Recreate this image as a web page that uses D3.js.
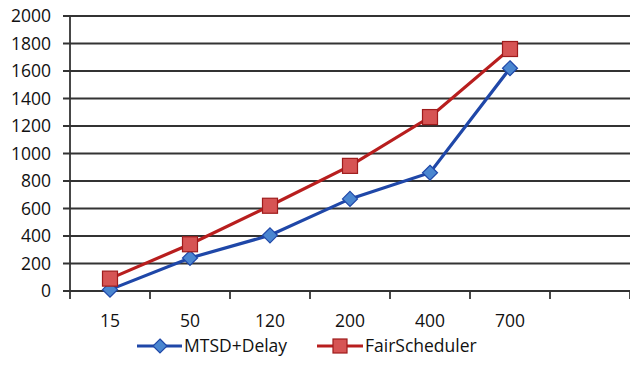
<!DOCTYPE html>
<html><head><meta charset="utf-8">
<script src="https://cdn.jsdelivr.net/npm/d3@7"></script>
<style>body{margin:0;background:#fff}svg{display:block}</style>
</head><body>
<svg id="c" width="630" height="366"></svg>
<script>
const categories = ["15","50","120","200","400","700",""];
const mtsd = [10, 240, 405, 670, 860, 1620];
const fair = [90, 340, 620, 910, 1265, 1760];
const yTicks = [0,200,400,600,800,1000,1200,1400,1600,1800,2000];
const seriesNames = ["MTSD+Delay","FairScheduler"];

const svg = d3.select("#c");
const font = "'Open Sans', sans-serif";
const fs = 17.5;
const x = d3.scaleBand().domain(categories).range([70, 630]).padding(0);
const y = d3.scaleLinear().domain([0, 2000]).range([291, 16]);

// gridlines
svg.append("g").selectAll("line").data(yTicks).join("line")
  .attr("x1", 63).attr("x2", 630)
  .attr("y1", d => y(d)).attr("y2", d => y(d))
  .attr("stroke", "#333").attr("stroke-width", 1.8);

// y axis line
svg.append("line").attr("x1", 70).attr("x2", 70).attr("y1", y(2000)).attr("y2", y(0) + 8)
  .attr("stroke", "#333").attr("stroke-width", 1.8);

// x ticks
const bounds = categories.map(c => x(c) + x.bandwidth());
svg.append("g").selectAll("line").data(bounds).join("line")
  .attr("x1", d => d).attr("x2", d => d)
  .attr("y1", y(0)).attr("y2", y(0) + 8)
  .attr("stroke", "#333").attr("stroke-width", 1.8);

// y labels
svg.append("g").selectAll("text").data(yTicks).join("text")
  .attr("x", 51).attr("y", d => y(d)).attr("dy", "0.36em")
  .attr("text-anchor", "end").attr("font-family", font).attr("font-size", fs)
  .attr("fill", "#111").text(d => d);

// x labels
svg.append("g").selectAll("text").data(categories).join("text")
  .attr("x", d => x(d) + x.bandwidth() / 2).attr("y", 327)
  .attr("text-anchor", "middle").attr("font-family", font).attr("font-size", fs)
  .attr("fill", "#111").text(d => d);

const cx = (d, i) => x(categories[i]) + x.bandwidth() / 2;
const line = d3.line().x(cx).y(d => y(d));

const blue = "#1f47a8", blueFill = "#4a86d0";
const red = "#b81e1e", redFill = "#d65454";

svg.append("path").datum(fair).attr("d", line).attr("fill", "none")
  .attr("stroke", red).attr("stroke-width", 3.2);
svg.append("path").datum(mtsd).attr("d", line).attr("fill", "none")
  .attr("stroke", blue).attr("stroke-width", 3.2);

const diamond = (cx0, cy0, r) => `M${cx0},${cy0 - r}L${cx0 + r},${cy0}L${cx0},${cy0 + r}L${cx0 - r},${cy0}Z`;

svg.append("g").selectAll("path").data(mtsd).join("path")
  .attr("d", (d, i) => diamond(cx(d, i), y(d), 7.5))
  .attr("fill", blueFill).attr("stroke", blue).attr("stroke-width", 1.2);
svg.append("g").selectAll("rect").data(fair).join("rect")
  .attr("x", (d, i) => cx(d, i) - 7.5).attr("y", d => y(d) - 7.5)
  .attr("width", 15).attr("height", 15)
  .attr("fill", redFill).attr("stroke", "#9e1c1c").attr("stroke-width", 1.2);

// legend
const ly = 346;
const lg = svg.append("g");
lg.append("line").attr("x1", 137).attr("x2", 182).attr("y1", ly).attr("y2", ly).attr("stroke", blue).attr("stroke-width", 3.2);
lg.append("path").attr("d", diamond(160, ly, 7)).attr("fill", blueFill).attr("stroke", blue).attr("stroke-width", 1.2);
lg.append("text").attr("x", 184).attr("y", ly).attr("dy", "0.36em").attr("font-family", font).attr("font-size", fs).attr("fill", "#111").text(seriesNames[0]);
lg.append("line").attr("x1", 317).attr("x2", 363).attr("y1", ly).attr("y2", ly).attr("stroke", red).attr("stroke-width", 3.2);
lg.append("rect").attr("x", 333).attr("y", ly - 7).attr("width", 14).attr("height", 14).attr("fill", redFill).attr("stroke", "#9e1c1c").attr("stroke-width", 1.2);
lg.append("text").attr("x", 365).attr("y", ly).attr("dy", "0.36em").attr("font-family", font).attr("font-size", fs).attr("fill", "#111").text(seriesNames[1]);
</script>
</body></html>
